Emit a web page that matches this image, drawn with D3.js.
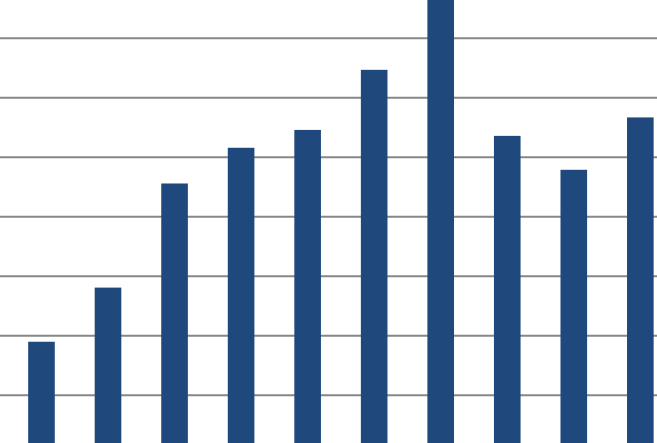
<!DOCTYPE html>
<html>
<head>
<meta charset="utf-8">
<script src="https://cdn.jsdelivr.net/npm/d3@7"></script>
<style>
  body { margin: 0; background: #fff; overflow: hidden; }
  svg { display: block; }
  .grid line { stroke: #878787; stroke-width: 2; }
  .grid .domain { display: none; }
  .grid text { display: none; }
</style>
</head>
<body>
<div id="chart"></div>
<script>
// categories and values (one grid step = 1 unit)
const categories = ["c1", "c2", "c3", "c4", "c5", "c6", "c7", "c8", "c9", "c10"];
const values = [1.89, 2.80, 4.55, 5.15, 5.45, 6.46, 8.2, 5.35, 4.78, 5.66];
const gridTicks = [1, 2, 3, 4, 5, 6, 7, 8];

const width = 657,
  height = 443;

// the picture is a crop: baseline sits below the bottom edge
const baseline = 454.2,
  stepPx = 59.5;

const svg = d3.select("#chart").append("svg")
  .attr("width", width)
  .attr("height", height)

const x = d3.scaleBand()
  .domain(categories)
  .range([8.2, 673.6])
  .paddingInner(0.6)
  .paddingOuter(0.3)

const y = d3.scaleLinear()
  .domain([0, 8])
  .range([baseline, baseline - 8 * stepPx])

svg.append("g")
  .attr("class", "grid")
  .call(d3.axisLeft(y)
    .tickValues(gridTicks)
    .tickSize(-width)
    .tickSizeOuter(0))
  .attr("transform", "translate(" + width + ",0)")

// gridlines drawn leftwards from the right edge so they span the whole width
svg.selectAll(".grid .tick line")
  .attr("x1", -width)
  .attr("x2", 0)

svg.append("g")
  .selectAll("rect")
  .data(values)
  .join("rect")
    .attr("x", (d, i) => x(categories[i]))
    .attr("y", d => y(d))
    .attr("width", x.bandwidth())
    .attr("height", d => y(0) - y(d))
    .attr("fill", "#1f497d")
</script>
</body>
</html>
